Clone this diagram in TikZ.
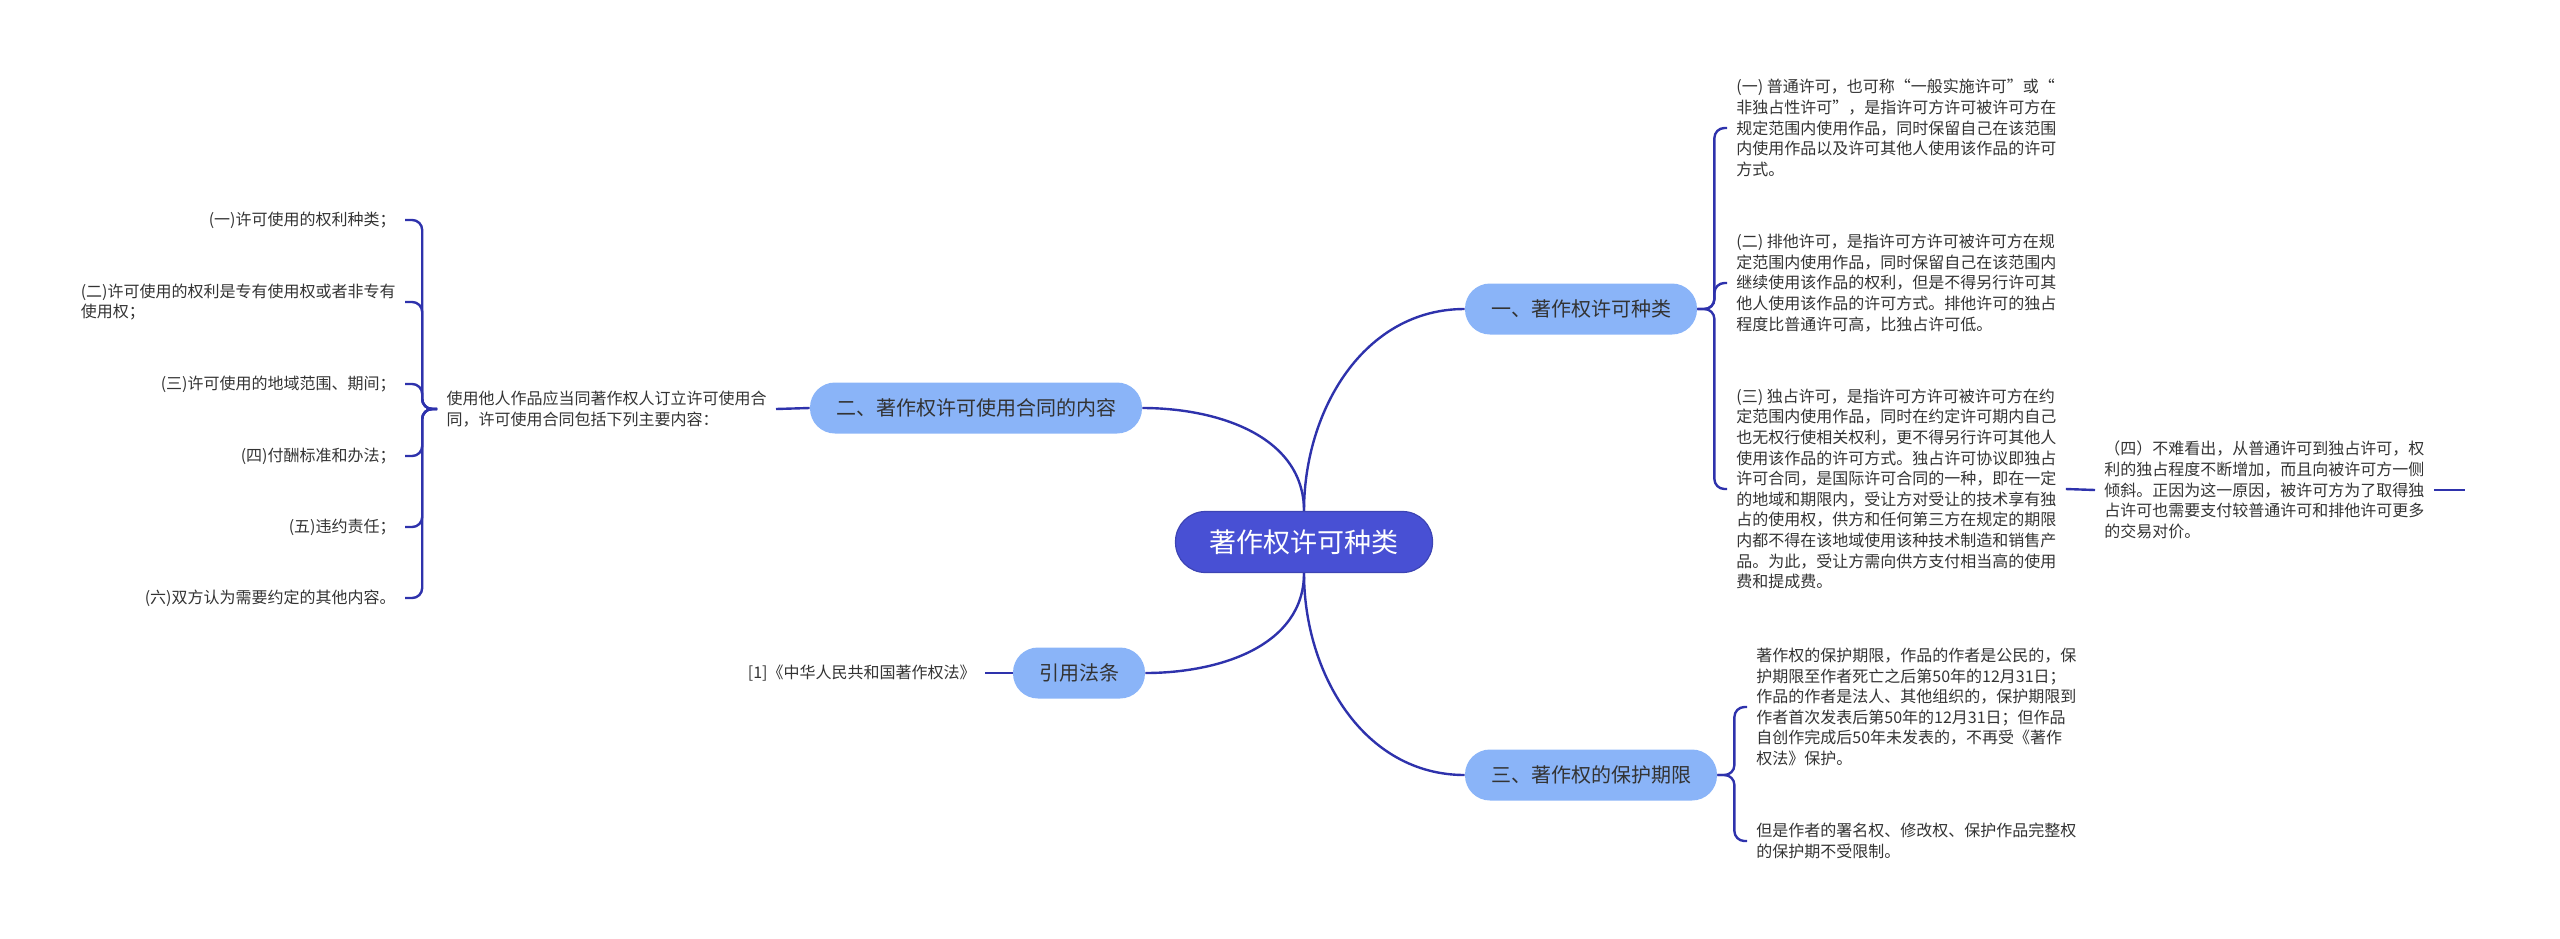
\documentclass[tikz,border=0pt]{standalone}
\usepackage{fontspec}
\setmainfont{Noto Sans CJK SC}
\usepackage{tikz}
\usetikzlibrary{positioning}
\definecolor{rootblue}{RGB}{72,80,212}
\definecolor{mainblue}{RGB}{138,180,248}
\definecolor{linkblue}{RGB}{46,50,172}
\definecolor{textgray}{RGB}{51,51,51}

\begin{document}
\begin{tikzpicture}[x=0.5pt,y=-0.5pt]
\tikzstyle{rootnode}=[rectangle, rounded corners=15pt, fill=rootblue, draw=rootblue!85!black, line width=0.6pt, text=white, minimum height=30.5pt, inner xsep=17pt, font=\fontsize{13.5pt}{16pt}\selectfont]
\tikzstyle{mainnode}=[rectangle, rounded corners=12.5pt, fill=mainblue, text=textgray, minimum height=25.5pt, inner xsep=13pt, font=\fontsize{10pt}{12pt}\selectfont]
\tikzstyle{leaf}=[align=left, text=textgray, inner xsep=4.5pt, inner ysep=2pt, font=\fontsize{8pt}{10.3pt}\selectfont]
\tikzstyle{link}=[draw=linkblue, line width=1.2pt]
\tikzstyle{fork}=[link, rounded corners=5pt]
\useasboundingbox (0,0) rectangle (2560,938);

\node[rootnode] (root) at (1304,542) {著作权许可种类};
\node[mainnode] (kinds) at (1581,309) {一、著作权许可种类};
\node[mainnode] (contract) at (976,408) {二、著作权许可使用合同的内容};
\node[mainnode] (law) at (1079,673) {引用法条};
\node[mainnode] (term) at (1591,775) {三、著作权的保护期限};

\node[leaf, anchor=west] (kind1) at (1727,128) {(一) 普通许可，也可称“一般实施许可”或“\\非独占性许可”，是指许可方许可被许可方在\\规定范围内使用作品，同时保留自己在该范围\\内使用作品以及许可其他人使用该作品的许可\\方式。};
\node[leaf, anchor=west] (kind2) at (1727,283) {(二) 排他许可，是指许可方许可被许可方在规\\定范围内使用作品，同时保留自己在该范围内\\继续使用该作品的权利，但是不得另行许可其\\他人使用该作品的许可方式。排他许可的独占\\程度比普通许可高，比独占许可低。};
\node[leaf, anchor=west] (kind3) at (1727,489) {(三) 独占许可，是指许可方许可被许可方在约\\定范围内使用作品，同时在约定许可期内自己\\也无权行使相关权利，更不得另行许可其他人\\使用该作品的许可方式。独占许可协议即独占\\许可合同，是国际许可合同的一种，即在一定\\的地域和期限内，受让方对受让的技术享有独\\占的使用权，供方和任何第三方在规定的期限\\内都不得在该地域使用该种技术制造和销售产\\品。为此，受让方需向供方支付相当高的使用\\费和提成费。};
\node[leaf, anchor=west] (kind4) at (2095,490) {（四）不难看出，从普通许可到独占许可，权\\利的独占程度不断增加，而且向被许可方一侧\\倾斜。正因为这一原因，被许可方为了取得独\\占许可也需要支付较普通许可和排他许可更多\\的交易对价。};
\coordinate (kind4end) at (2465,490);

\node[leaf, anchor=west] (term1) at (1747,707) {著作权的保护期限，作品的作者是公民的，保\\护期限至作者死亡之后第50年的12月31日；\\作品的作者是法人、其他组织的，保护期限到\\作者首次发表后第50年的12月31日；但作品\\自创作完成后50年未发表的，不再受《著作\\权法》保护。};
\node[leaf, anchor=west] (term2) at (1747,841) {但是作者的署名权、修改权、保护作品完整权\\的保护期不受限制。};

\node[leaf, anchor=east] (lawtext) at (985,673) {[1]《中华人民共和国著作权法》};

\node[leaf, anchor=east] (intro) at (776,409) {使用他人作品应当同著作权人订立许可使用合\\同，许可使用合同包括下列主要内容：};
\node[leaf, anchor=east] (item1) at (405,220) {(一)许可使用的权利种类；};
\node[leaf, anchor=east] (item2) at (405,302) {(二)许可使用的权利是专有使用权或者非专有\\使用权；};
\node[leaf, anchor=east] (item3) at (405,384) {(三)许可使用的地域范围、期间；};
\node[leaf, anchor=east] (item4) at (405,456) {(四)付酬标准和办法；};
\node[leaf, anchor=east] (item5) at (405,527) {(五)违约责任；};
\node[leaf, anchor=east] (item6) at (405,598) {(六)双方认为需要约定的其他内容。};

\draw[link] (root.north) to[out=90,in=180] (kinds.west);
\draw[link] (root.north) to[out=90,in=0] (contract.east);
\draw[link] (root.south) to[out=-90,in=0] (law.east);
\draw[link] (root.south) to[out=-90,in=180] (term.west);

\foreach \k in {kind1,kind2,kind3}
  \draw[fork] (kinds.east) -- ++(17,0) |- (\k.west);
\draw[link] (kind3.east) -- (kind4.west);
\draw[link] (kind4.east) -- (kind4end);
\foreach \k in {term1,term2}
  \draw[fork] (term.east) -- ++(17,0) |- (\k.west);
\draw[link] (law.west) -- (lawtext.east);
\draw[link] (contract.west) -- (intro.east);
\foreach \k in {item1,item2,item3,item4,item5,item6}
  \draw[fork] (intro.west) -- ++(-15,0) |- (\k.east);
\end{tikzpicture}
\end{document}
